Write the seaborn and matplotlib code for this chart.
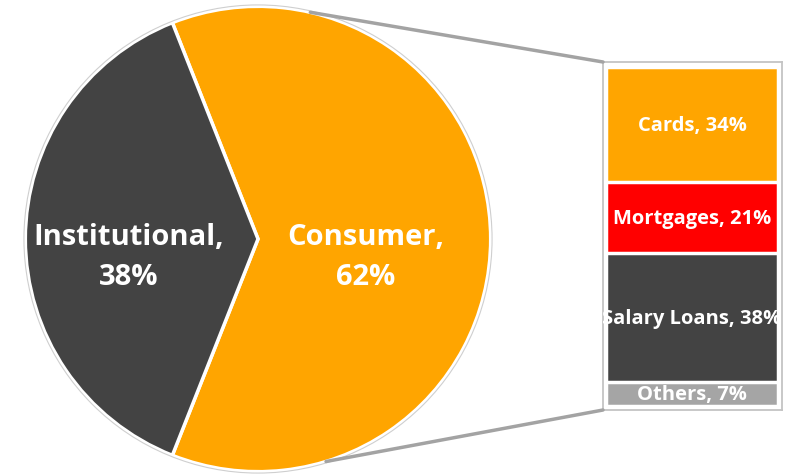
import numpy as np
import matplotlib
matplotlib.use("Agg")
import matplotlib.pyplot as plt
import matplotlib.patches as mpatches
from matplotlib.patches import ConnectionPatch
import seaborn as sns

# Loan book split
pie_labels = ["Consumer", "Institutional"]
pie_shares = [62, 38]
pie_colors = ["#FFA500", "#434343"]

# Breakdown of the consumer book
bar_labels = ["Cards", "Mortgages", "Salary Loans", "Others"]
bar_shares = [34, 21, 38, 7]
bar_colors = ["#FFA500", "#FF0000", "#434343", "#A5A5A5"]

sns.set_theme(style="white")
plt.rcParams["font.family"] = ["Open Sans", "DejaVu Sans"]

W, H = 790, 477
fig = plt.figure(figsize=(W / 100, H / 100), dpi=100)
fig.patch.set_facecolor("white")


def box(x0, y0, x1, y1):
    return [x0 / W, 1 - y1 / H, (x1 - x0) / W, (y1 - y0) / H]


# ---- pie ----
axp = fig.add_axes(box(23, 5, 493, 475))
inst_share = pie_shares[1]
start = 180 + 360 * inst_share / 100 / 2
axp.pie(pie_shares, colors=pie_colors, startangle=start, counterclock=True,
        radius=1.0, wedgeprops=dict(edgecolor="white", linewidth=2.5))
axp.add_patch(mpatches.Circle((0, 0), 1.006, fill=False,
                              edgecolor="#CFCFCF", linewidth=0.8))
axp.set_xlim(-1.01, 1.01)
axp.set_ylim(-1.01, 1.01)
axp.set_aspect("equal")
axp.axis("off")

pie_text_pos = {"Consumer": (0.464, -0.075), "Institutional": (-0.557, -0.075)}
for name, share in zip(pie_labels, pie_shares):
    x, y = pie_text_pos[name]
    axp.text(x, y, f"{name},\n{share}%", ha="center", va="center",
             color="white", fontsize=21, fontweight="bold", linespacing=1.5)

# ---- stacked bar ----
axb = fig.add_axes(box(603, 63, 782, 411))
tops = np.cumsum(bar_shares)
for name, top, color in reversed(list(zip(bar_labels, tops, bar_colors))):
    sns.barplot(x=["Consumer"], y=[top], color=color, width=1.0,
                saturation=1, edgecolor="white", linewidth=2.5, ax=axb)

for name, share, top in zip(bar_labels, bar_shares, tops):
    axb.text(0, top - share / 2, f"{name}, {share}%", ha="center",
             va="center", color="white", fontsize=14.5, fontweight="bold",
             clip_on=True)

axb.set_xlim(-0.517, 0.523)
axb.set_ylim(101.2, -1.47)
axb.set_xticks([])
axb.set_yticks([])
axb.set_xlabel("")
axb.set_ylabel("")
for sp in axb.spines.values():
    sp.set_visible(True)
    sp.set_color("#C4C4C4")
    sp.set_linewidth(1.3)

# ---- connectors from pie to bar ----
for ang, corner in [(77, (0, 1)), (-73, (0, 0))]:
    a = np.deg2rad(ang)
    con = ConnectionPatch(xyA=(np.cos(a), np.sin(a)), coordsA=axp.transData,
                          xyB=corner, coordsB=axb.transAxes,
                          color="#A3A3A3", linewidth=2.5)
    fig.add_artist(con)

fig.savefig("out.png", dpi=100, facecolor="white")
